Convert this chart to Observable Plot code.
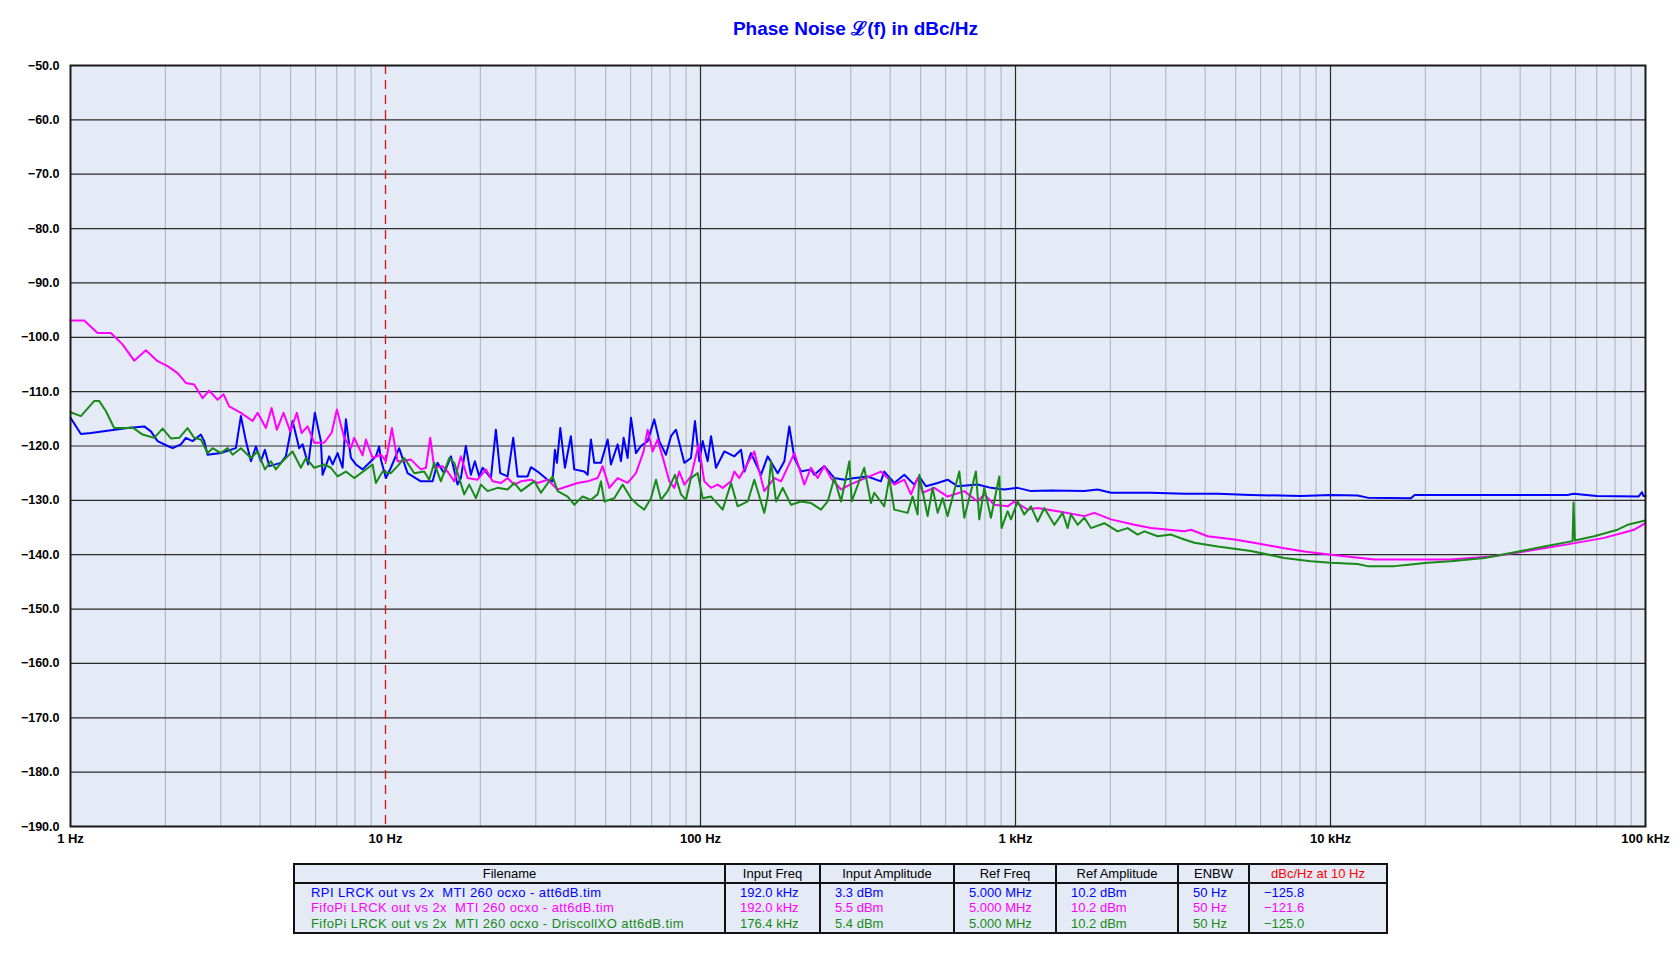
<!DOCTYPE html>
<html>
<head>
<meta charset="utf-8">
<script src="https://cdn.jsdelivr.net/npm/d3@7"></script>
<script src="https://cdn.jsdelivr.net/npm/@observablehq/plot@0.6"></script>
<style>
  html, body { margin: 0; padding: 0; background: #ffffff; width: 1680px; height: 967px; overflow: hidden; }
  body { position: relative; font-family: "Liberation Sans", Arial, Helvetica, sans-serif; }
  #title { height: 44px; box-sizing: border-box; padding-top: 19px; padding-left: 31px; text-align: center; font-size: 19px; line-height: 19px; font-weight: bold; color: #0000ff; }
  #chart svg { display: block; }
  #legendTable { position: absolute; left: 293px; top: 863px; border-collapse: collapse; table-layout: fixed; background: #e4eaf6; font-size: 13px; color: #000; }
  #legendTable th { font-weight: normal; height: 17px; padding: 0; border: 2px solid #111; line-height: 15px; text-align: center; white-space: pre; }
  #legendTable td { padding: 0 0 0 14px; line-height: 15.4px; text-align: left; white-space: pre; border-left: 2px solid #111; border-right: 2px solid #111; }
  #legendTable td.fname { padding-left: 16px; letter-spacing: 0.42px; }
  #legendTable tr.first td { padding-top: 1px; }
  #legendTable tr.last td { padding-bottom: 1px; border-bottom: 2px solid #111; }
</style>
</head>
<body>
<div id="title">Phase Noise ℒ(f) in dBc/Hz</div>
<div id="chart"></div>
<table id="legendTable"></table>
<script>
// ---------- data ----------
const seriesNames = [
  "RPI LRCK out vs 2x  MTI 260 ocxo - att6dB.tim",
  "FifoPi LRCK out vs 2x  MTI 260 ocxo - att6dB.tim",
  "FifoPi LRCK out vs 2x  MTI 260 ocxo - DriscollXO att6dB.tim"
];
const seriesColors = ["#0000ff", "#ff00ff", "#178a17"];

const blueF = [1,1.079,1.161,1.518,1.714,1.8,1.89,2.034,2.11,2.242,2.324,2.441,2.594,2.657,2.724,3.003,3.35,3.475,3.605,3.74,3.879,4.021,4.141,4.274,4.655,4.828,5.07,5.321,5.455,5.683,5.968,6.235,6.313,6.627,6.793,7.047,7.308,7.487,7.766,8.054,8.459,8.989,9.322,9.55,9.669,10.03,10.4,11.05,11.75,12.95,14.11,14.63,15.36,16.13,16.93,17.35,17.99,18.67,19.22,19.84,20.33,21.61,22.41,23.13,24.41,25.44,26.26,28.26,28.96,30.4,32.7,33.92,34.5,35.02,35.88,37.12,38.77,39.73,42.76,43.82,44.89,46.0,48.31,50.73,51.97,54.57,55.92,57.02,58.7,60.15,62.39,64.71,67.95,71.34,73.99,77.68,80.59,83.59,88.84,93.27,96.04,99.13,101.6,105.4,108.0,112.0,119.0,128.1,134.5,137.8,144.7,155.6,163.4,175.8,184.6,191.4,198.6,208.5,224.3,229.8,247.3,266.0,286.2,300.5,339.2,373.9,383.1,412.2,443.6,477.1,494.9,519.6,566.0,608.9,655.1,758.0,835.6,921.2,1016,1120,1296,1654,1823,2010,2692,3436,4385,5589,8064,10030,12180,13110,17990,18500,30750,56560,59100,70000,95000,97500,98500,100000];
const blueDb = [-114.8,-117.8,-117.6,-116.7,-116.4,-117.3,-119.1,-120.0,-120.4,-119.7,-118.5,-119.1,-117.9,-119.1,-121.6,-121.3,-120.4,-114.5,-119.1,-122.8,-120.1,-122.8,-120.7,-123.7,-123.1,-121.9,-115.4,-120.4,-119.7,-123.4,-113.9,-119.1,-125.3,-121.9,-123.4,-121.3,-124.0,-115.1,-122.2,-123.4,-124.3,-122.8,-121.9,-120.1,-122.5,-125.9,-124.0,-120.4,-125.0,-126.5,-126.5,-123.1,-125.0,-121.9,-127.1,-125.9,-120.0,-125.3,-122.8,-125.6,-124.0,-125.9,-117.0,-125.0,-125.6,-118.5,-125.6,-125.6,-123.9,-124.7,-126.2,-126.5,-120.7,-123.1,-116.7,-124.0,-118.2,-124.3,-124.7,-125.3,-118.8,-123.1,-123.1,-118.8,-123.4,-119.7,-122.8,-118.5,-122.2,-114.8,-121.3,-120.0,-119.1,-115.1,-119.1,-121.6,-118.2,-117.0,-123.1,-122.2,-115.4,-122.8,-119.1,-122.8,-118.2,-124.0,-121.0,-121.9,-120.7,-124.7,-121.3,-125.3,-121.9,-125.0,-122.8,-116.4,-122.2,-124.7,-124.3,-125.3,-123.7,-125.9,-126.2,-126.0,-125.6,-126.5,-124.7,-126.8,-125.3,-127.1,-125.6,-127.4,-126.8,-126.2,-127.4,-127.1,-127.7,-128.0,-127.7,-128.3,-128.2,-128.3,-128.0,-128.6,-128.6,-128.8,-128.8,-129.0,-129.2,-129.0,-129.1,-129.5,-129.6,-129.0,-129.0,-129.0,-128.8,-129.2,-129.3,-128.5,-129.2,-129.2];

const magentaF = [1,1.105,1.219,1.343,1.463,1.593,1.735,1.89,2.034,2.188,2.324,2.47,2.627,2.756,2.931,3.062,3.19,3.475,3.787,3.926,4.172,4.349,4.52,4.747,4.983,5.232,5.415,5.658,5.938,6.388,6.743,7.01,7.395,7.766,7.955,8.459,8.666,9.1,9.669,10.03,10.48,10.92,11.19,12.04,12.95,13.44,13.87,14.28,15.18,15.74,16.53,17.35,18.22,19.6,20.84,21.88,23.25,24.41,25.63,26.92,28.96,30.4,32.7,35.19,37.86,40.72,43.82,47.14,48.9,51.35,54.57,58.7,62.39,65.98,67.95,70.47,73.1,76.75,79.6,82.58,85.65,88.84,93.27,98.65,102.8,108.0,113.4,117.6,125.0,128.1,132.8,148.2,159.4,171.6,180.2,198.6,213.6,224.3,235.5,247.3,259.6,279.3,300.5,373.9,412.2,443.6,465.6,488.9,507.1,552.3,608.9,687.8,758.0,796.0,856.2,944.0,991.1,1093,1176,1361,1654,1779,2010,2384,2692,3436,3608,4076,4953,5589,7131,8254,10030,13770,24110,33080,41200,56560,73960,92090,100000];
const magentaDb = [-96.9,-96.9,-99.2,-99.2,-101.3,-104.3,-102.4,-104.4,-105.3,-106.6,-108.4,-108.7,-111.2,-109.8,-111.5,-110.5,-112.7,-113.9,-115.4,-113.9,-116.7,-113.0,-117.0,-113.9,-117.3,-113.9,-117.6,-116.4,-119.4,-119.4,-117.6,-113.3,-118.5,-120.4,-118.5,-121.7,-118.8,-122.2,-121.6,-122.8,-116.7,-122.8,-122.8,-122.5,-124.3,-124.0,-118.5,-124.0,-123.7,-124.7,-126.5,-121.9,-125.9,-126.2,-124.3,-126.5,-126.8,-125.9,-127.1,-126.5,-126.2,-126.8,-126.2,-128.0,-127.4,-126.8,-126.5,-125.9,-123.7,-127.7,-125.9,-126.8,-125.0,-121.0,-117.0,-121.0,-118.8,-123.1,-126.5,-127.7,-124.7,-127.1,-125.6,-119.7,-126.5,-127.7,-127.1,-127.7,-126.5,-124.7,-125.9,-121.0,-128.3,-125.9,-126.5,-121.3,-127.1,-124.0,-125.9,-123.7,-125.9,-128.0,-127.0,-124.7,-127.1,-126.2,-128.9,-125.9,-128.6,-127.7,-129.3,-128.3,-130.2,-128.9,-130.8,-131.1,-130.2,-131.7,-131.4,-132.0,-132.9,-132.3,-133.5,-134.5,-135.1,-135.7,-135.4,-136.6,-137.2,-137.7,-138.8,-139.4,-140.0,-140.9,-140.9,-140.3,-139.4,-138.1,-136.9,-135.4,-134.2];

const greenF = [1,1.079,1.19,1.233,1.296,1.376,1.518,1.574,1.694,1.844,1.96,2.084,2.214,2.353,2.47,2.594,2.724,2.826,3.003,3.153,3.27,3.475,3.74,3.926,4.141,4.327,4.488,4.713,5.07,5.387,5.588,5.938,6.388,6.709,7.047,7.487,7.955,9.1,9.322,9.79,10.4,10.92,11.47,12.34,13.27,13.76,14.28,14.99,15.94,16.53,17.14,17.78,18.44,19.36,20.09,21.09,22.69,24.41,25.63,26.92,29.67,31.15,33.92,35.19,37.86,39.73,42.24,44.89,47.14,48.31,49.5,53.25,56.6,60.15,63.15,66.3,69.63,72.22,74.9,78.64,82.98,86.7,89.92,93.27,97.93,101.6,108.0,117.6,125.0,131.2,141.2,148.2,159.4,163.4,167.4,173.7,182.4,193.8,208.5,224.3,241.3,253.4,266.0,279.3,296.9,302,331.0,347.5,356.1,383.1,397.4,412.2,454.5,471.3,488.9,494.9,526.0,545.6,566.0,587.0,608.9,663.1,687.8,748.8,767.4,796.0,835.6,888.1,903.4,944.0,967.3,1016,1066,1120,1176,1234,1328,1411,1464,1500,1575,1654,1736,1914,2110,2270,2442,2565,2827,3117,3436,3697,4385,5589,7131,8664,10030,12180,13110,15930,17990,20320,24110,30750,37370,47690,58670,59100,59680,68730,81520,87710,99800];
const greenDb = [-113.8,-114.5,-111.7,-111.7,-113.6,-116.7,-116.7,-116.6,-117.9,-118.5,-116.8,-118.6,-118.5,-116.7,-118.5,-118.8,-121.3,-120.4,-121.3,-120.4,-121.6,-120.4,-122.2,-121.0,-124.3,-122.8,-124.3,-122.8,-121.0,-124.0,-122.2,-124.0,-123.4,-124.0,-125.6,-124.7,-125.9,-123.4,-126.8,-124.7,-125.0,-123.7,-122.2,-125.0,-124.7,-126.2,-123.1,-126.5,-122.2,-123.1,-125.9,-128.9,-127.1,-129.6,-127.1,-128.3,-127.7,-128.0,-126.8,-128.3,-126.5,-128.6,-125.6,-128.3,-129.3,-130.8,-129.3,-129.9,-128.9,-126.5,-130.2,-129.6,-127.1,-129.6,-130.8,-131.7,-129.6,-126.2,-129.9,-128.3,-125.3,-128.9,-129.9,-125.9,-125.0,-129.6,-129.3,-131.7,-126.8,-131.1,-130.2,-126.2,-132.3,-129.3,-122.8,-130.2,-127.7,-130.8,-130.2,-130.5,-131.7,-130.2,-125.9,-130.2,-122.8,-130.2,-124.0,-130.5,-128.6,-131.1,-125.9,-131.7,-132.3,-129.3,-132.6,-125.3,-132.9,-127.7,-132.3,-129.6,-132.9,-124.7,-133.2,-124.7,-133.5,-127.7,-133.2,-125.6,-135.1,-132.0,-133.5,-130.2,-132.6,-131.1,-133.9,-131.4,-134.5,-132.3,-135.1,-132.6,-134.5,-133.2,-135.1,-134.2,-135.7,-135.1,-136.3,-135.7,-136.6,-136.3,-137.2,-137.8,-138.5,-139.3,-140.6,-141.2,-141.5,-141.7,-142.1,-142.1,-141.8,-141.5,-141.2,-140.6,-139.7,-138.5,-137.5,-130.4,-137.4,-136.6,-135.4,-134.5,-133.7];

const xTicks = [1, 10, 100, 1000, 10000, 100000];
const xTickLabels = ["1 Hz", "10 Hz", "100 Hz", "1 kHz", "10 kHz", "100 kHz"];
const yTicks = [-50,-60,-70,-80,-90,-100,-110,-120,-130,-140,-150,-160,-170,-180,-190];
const yTickLabels = ["−50.0","−60.0","−70.0","−80.0","−90.0","−100.0","−110.0","−120.0","−130.0","−140.0","−150.0","−160.0","−170.0","−180.0","−190.0"];
const markerFreq = [10];

const tableHeaders = ["Filename", "Input Freq", "Input Amplitude", "Ref Freq", "Ref Amplitude", "ENBW", "dBc/Hz at 10 Hz"];
const inputFreq = ["192.0 kHz", "192.0 kHz", "176.4 kHz"];
const inputAmplitude = ["3.3 dBm", "5.5 dBm", "5.4 dBm"];
const refFreq = ["5.000 MHz", "5.000 MHz", "5.000 MHz"];
const refAmplitude = ["10.2 dBm", "10.2 dBm", "10.2 dBm"];
const enbw = ["50 Hz", "50 Hz", "50 Hz"];
const dbcAt10 = ["−125.8", "−121.6", "−125.0"];

// ---------- build ----------
const zip = (fs, ds) => fs.map((f, i) => ({f, db: ds[i]}));
const blueData = zip(blueF, blueDb);
const magentaData = zip(magentaF, magentaDb);
const greenData = zip(greenF, greenDb);

const minorTicks = [];
for (let d = 1; d < 100000; d *= 10) for (let k = 2; k <= 9; k++) minorTicks.push(d * k);
const majorInner = xTicks.filter(v => v !== 1 && v !== 100000 && !markerFreq.includes(v));

const xLabel = new Map(xTicks.map((v, i) => [v, xTickLabels[i]]));
const yLabel = new Map(yTicks.map((v, i) => [v, yTickLabels[i]]));

const chart = Plot.plot({
  width: 1680,
  height: 812,
  marginLeft: 70,
  marginRight: 35,
  marginTop: 21,
  marginBottom: 30,
  style: {fontFamily: "'Liberation Sans', Arial, Helvetica, sans-serif", background: "transparent", overflow: "visible"},
  x: {type: "log", domain: [1, 100000], label: null},
  y: {domain: [-190, -50], label: null},
  marks: [
    Plot.frame({fill: "#e4eaf6", stroke: null}),
    Plot.ruleX(minorTicks, {stroke: "#aab1bd", strokeWidth: 1}),
    Plot.ruleX(majorInner, {stroke: "#2a2a2a", strokeWidth: 1.2}),
    Plot.ruleY(yTicks.filter(v => v !== -50 && v !== -190), {stroke: "#2a2a2a", strokeWidth: 1.2}),
    Plot.ruleX(markerFreq, {stroke: "#e01010", strokeWidth: 1.3, strokeDasharray: "9,6"}),
    Plot.line(blueData, {x: "f", y: "db", stroke: seriesColors[0], strokeWidth: 2}),
    Plot.line(magentaData, {x: "f", y: "db", stroke: seriesColors[1], strokeWidth: 2}),
    Plot.line(greenData, {x: "f", y: "db", stroke: seriesColors[2], strokeWidth: 2}),
    Plot.frame({stroke: "#1a1a1a", strokeWidth: 2}),
    Plot.axisX(xTicks, {label: null, tickSize: 0, tickPadding: 7, tickFormat: v => xLabel.get(v), fontSize: 13, fontWeight: "bold", fill: "#000"}),
    Plot.axisY(yTicks, {label: null, tickSize: 0, tickPadding: 11, tickFormat: v => yLabel.get(v), fontSize: 12.5, fontWeight: "bold", fill: "#000"})
  ]
});
document.getElementById("chart").appendChild(chart);

// table
const table = document.getElementById("legendTable");
const colWidths = [431, 95, 134, 102, 122, 71, 138];
const cg = document.createElement("colgroup");
colWidths.forEach(w => { const c = document.createElement("col"); c.style.width = w + "px"; cg.appendChild(c); });
table.appendChild(cg);
const thead = document.createElement("tr");
tableHeaders.forEach((h, i) => {
  const th = document.createElement("th");
  th.textContent = h;
  if (i === tableHeaders.length - 1) th.style.color = "#ff0000";
  thead.appendChild(th);
});
table.appendChild(thead);
seriesNames.forEach((name, r) => {
  const tr = document.createElement("tr");
  if (r === 0) tr.className = "first";
  if (r === seriesNames.length - 1) tr.className = "last";
  [name, inputFreq[r], inputAmplitude[r], refFreq[r], refAmplitude[r], enbw[r], dbcAt10[r]].forEach((v, c) => {
    const td = document.createElement("td");
    td.textContent = v;
    td.style.color = seriesColors[r];
    if (c === 0) td.className = "fname";
    tr.appendChild(td);
  });
  table.appendChild(tr);
});
</script>
</body>
</html>
